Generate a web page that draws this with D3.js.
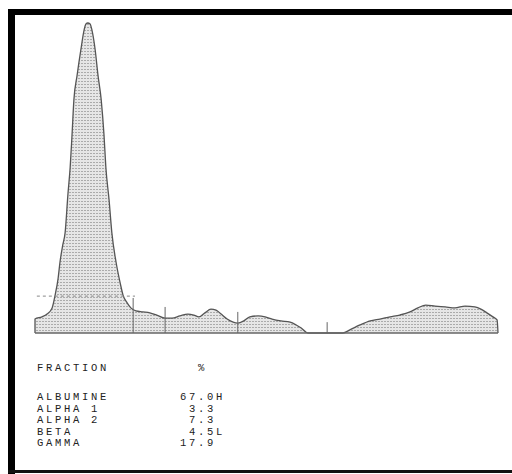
<!DOCTYPE html>
<html>
<head>
<meta charset="utf-8">
<script src="https://cdn.jsdelivr.net/npm/d3@7"></script>
<style>
  html, body { margin: 0; background: #fff; overflow: hidden; }
  svg { display: block; }
  .txt { font-family: "Liberation Mono", "DejaVu Sans Mono", monospace; font-size: 10.5px; fill: #222; }
</style>
</head>
<body>
<div id="chart"></div>
<script>
// densitometer trace: [mobility, density] (0-100 scales)
const tracePos = [0, 0, 1.5, 2.6, 3.7, 4.3, 5.0, 5.4, 6.0, 6.5, 7.1, 7.6, 8.0, 8.4, 9.1, 9.9, 10.6, 11.0, 11.4, 11.9,
    12.3, 13.0, 13.6, 14.3, 14.9, 15.3, 16.0, 16.6, 17.5, 18.4, 19.0, 19.9, 20.7, 21.8, 23.3, 24.8, 26.3, 28.1, 29.6,
    31.3, 33.0, 34.3, 35.4, 36.7, 38.0, 39.1, 40.2, 41.5, 42.8, 43.8, 45.1, 46.4, 48.2, 49.7, 51.2, 53.1, 55.1, 56.4,
    57.5, 58.5, 59.0, 66.5, 68.0, 70.2, 72.4, 74.5, 76.7, 78.8, 81.0, 82.7, 84.4, 86.4, 88.6, 90.7, 92.9, 95.0, 96.3,
    97.6, 98.9, 99.8, 100];
const traceVal = [0, 4.5, 5.2, 6.1, 8.1, 11.9, 17.7, 22.9, 28.4, 32.3, 44.5, 53.5, 63.9, 75.2, 83.2, 91.3, 97.7, 99.7, 100, 99.7,
    97.7, 91.3, 83.2, 75.2, 63.9, 53.5, 42.9, 32.3, 22.9, 16.1, 12.3, 9.7, 8.1, 7.1, 6.8, 6.5, 5.8, 4.8, 4.8,
    5.5, 6.1, 5.8, 5.2, 6.5, 7.7, 7.4, 6.1, 4.5, 3.5, 3.2, 3.9, 5.2, 5.5, 5.2, 4.5, 3.9, 3.5, 2.6,
    1.6, 0.3, 0, 0, 1.0, 2.6, 3.9, 4.5, 5.2, 5.8, 6.8, 8.1, 9.0, 8.7, 8.4, 8.1, 8.7, 8.4, 7.7,
    6.5, 5.2, 4.2, 0];

// fraction boundaries (mobility, height of the marker)
const splitPos = [21.2, 28.1, 43.8, 63.1];
const splitTop = [11.3, 8.4, 6.8, 3.5];
const dashLevel = 11.9;
const dashRange = [0.4, 21.6];

const fractions = ["ALBUMINE", "ALPHA 1", "ALPHA 2", "BETA", "GAMMA"];
const percents = ["67.0H", " 3.3", " 7.3", " 4.5L", "17.9"];

const W = 512, H = 474;

const svg = d3.select("#chart").append("svg")
    .attr("width", W)
    .attr("height", H);

// hatch pattern for the filled area
const defs = svg.append("defs");
const pat = defs.append("pattern")
    .attr("id", "hatch")
    .attr("patternUnits", "userSpaceOnUse")
    .attr("width", 3).attr("height", 3);
pat.append("rect").attr("width", 3).attr("height", 3).attr("fill", "#e6e6e6");
pat.append("rect").attr("width", 2).attr("height", 1).attr("fill", "#ababab");

// frame (top, left, bottom)
svg.append("rect").attr("x", 8).attr("y", 9).attr("width", W - 8).attr("height", 6).attr("fill", "#000");
svg.append("rect").attr("x", 8).attr("y", 9).attr("width", 7).attr("height", H - 9).attr("fill", "#000");
svg.append("rect").attr("x", 8).attr("y", 470).attr("width", W - 8).attr("height", 3).attr("fill", "#111");

const x = d3.scaleLinear().domain([0, 100]).range([35, 498]);
const y = d3.scaleLinear().domain([0, 100]).range([333, 23]);

const pts = tracePos.map((p, i) => [p, traceVal[i]]);

const area = d3.area()
    .x(d => x(d[0]))
    .y0(y(0))
    .y1(d => y(d[1]))
    .curve(d3.curveMonotoneX);

const line = d3.line()
    .x(d => x(d[0]))
    .y(d => y(d[1]))
    .curve(d3.curveMonotoneX);

svg.append("path")
    .datum(pts)
    .attr("d", area)
    .attr("fill", "url(#hatch)");

svg.append("path")
    .datum(pts)
    .attr("d", line)
    .attr("fill", "none")
    .attr("stroke", "#555")
    .attr("stroke-width", 1.3);

// baseline
svg.append("line")
    .attr("x1", x(0)).attr("x2", x(100))
    .attr("y1", y(0)).attr("y2", y(0))
    .attr("stroke", "#666")
    .attr("stroke-width", 1.6);

// dashed reference level
svg.append("line")
    .attr("x1", x(dashRange[0])).attr("x2", x(dashRange[1]))
    .attr("y1", y(dashLevel)).attr("y2", y(dashLevel))
    .attr("stroke", "#888")
    .attr("stroke-width", 1)
    .attr("stroke-dasharray", "3,3");

// fraction split markers
svg.selectAll(".split")
    .data(splitPos)
    .enter().append("line")
    .attr("class", "split")
    .attr("x1", d => x(d)).attr("x2", d => x(d))
    .attr("y1", y(0))
    .attr("y2", (d, i) => y(splitTop[i]))
    .attr("stroke", "#666")
    .attr("stroke-width", 1);

// table
svg.append("text").attr("class", "txt")
    .attr("x", 37).attr("y", 371)
    .attr("letter-spacing", 2.7)
    .text("FRACTION");
svg.append("text").attr("class", "txt")
    .attr("x", 198).attr("y", 371)
    .text("%");

svg.selectAll(".lbl")
    .data(fractions)
    .enter().append("text")
    .attr("class", "txt lbl")
    .attr("x", 37)
    .attr("y", (d, i) => 400 + i * 11.5)
    .attr("letter-spacing", 2.7)
    .style("white-space", "pre")
    .text(d => d);

svg.selectAll(".val")
    .data(percents)
    .enter().append("text")
    .attr("class", "txt val")
    .attr("x", 180)
    .attr("y", (d, i) => 400 + i * 11.5)
    .attr("letter-spacing", 2.7)
    .style("white-space", "pre")
    .text(d => d);
</script>
</body>
</html>
